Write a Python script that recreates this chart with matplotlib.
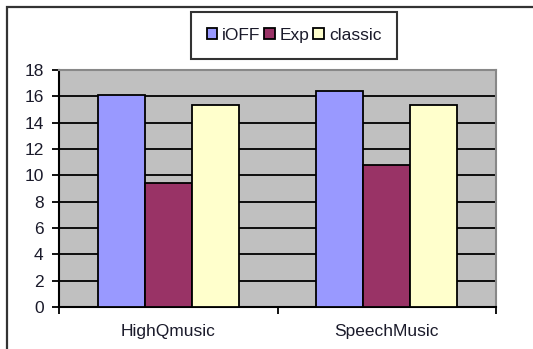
import matplotlib
matplotlib.use("Agg")
import matplotlib.pyplot as plt
from matplotlib.patches import Rectangle
import numpy as np

categories = ["HighQmusic", "SpeechMusic"]
series_names = ["iOFF", "Exp", "classic"]
ioff = [16.1, 16.4]
exp_ = [9.4, 10.8]
classic = [15.35, 15.35]
yticks = [0, 2, 4, 6, 8, 10, 12, 14, 16, 18]
colors = ["#9999FF", "#993366", "#FFFFCC"]

plt.rcParams['font.family'] = ['Liberation Sans', 'DejaVu Sans']

W, H = 533, 349
fig = plt.figure(figsize=(W / 100, H / 100), dpi=100)
fig.patch.set_facecolor("white")

# outer chart border
fig.patches.append(Rectangle((7 / W, -0.1), 1.2, (H - 7) / H + 0.1, transform=fig.transFigure,
                             fill=False, edgecolor="#333333", linewidth=1.6, zorder=0))

ax = fig.add_axes([59 / W, 42 / H, (496 - 59) / W, (307 - 70) / H])
ax.set_facecolor("#C0C0C0")

x = np.arange(len(categories))
w = 0.215
series = [ioff, exp_, classic]
for i, (vals, name, c) in enumerate(zip(series, series_names, colors)):
    ax.bar(x + (i - 1) * w, vals, width=w, color=c, edgecolor="black", linewidth=1.3,
           label=name, zorder=3)

ax.set_xlim(-0.5, 1.5)
ax.set_ylim(0, 18)
ax.set_yticks(yticks)
ax.set_yticklabels([str(t) for t in yticks])
for t in yticks[1:-1]:
    ax.axhline(t, color="black", linewidth=1.3, zorder=1)

ax.set_xticks([-0.5, 0.5, 1.5])
ax.set_xticklabels([])
ax.set_xticks(x, minor=True)
ax.set_xticklabels(categories, minor=True)
ax.tick_params(axis="x", which="minor", length=0, pad=12, labelsize=12.5, labelcolor="#1a1a2a")
ax.tick_params(axis="x", which="major", length=5, width=1.3, direction="out", color="black")
ax.tick_params(axis="y", length=5, width=1.3, direction="out", pad=6, labelsize=12.5,
               labelcolor="#1a1a2a")

for s in ["top", "right"]:
    ax.spines[s].set_color("#888888")
    ax.spines[s].set_linewidth(1.5)
for s in ["left", "bottom"]:
    ax.spines[s].set_color("black")
    ax.spines[s].set_linewidth(1.5)

leg = fig.legend(loc="center", bbox_to_anchor=(294 / W, 1 - 35.5 / H), ncol=3,
                 frameon=True, fancybox=False, edgecolor="black", fontsize=12.5,
                 handlelength=0.6, handleheight=0.6, handletextpad=0.3, columnspacing=0.2,
                 borderpad=0.9, borderaxespad=0)
leg.get_frame().set_linewidth(1.5)
for t in leg.get_texts():
    t.set_color("#1a1a2a")

fig.savefig("out.png", dpi=100, facecolor="white")
